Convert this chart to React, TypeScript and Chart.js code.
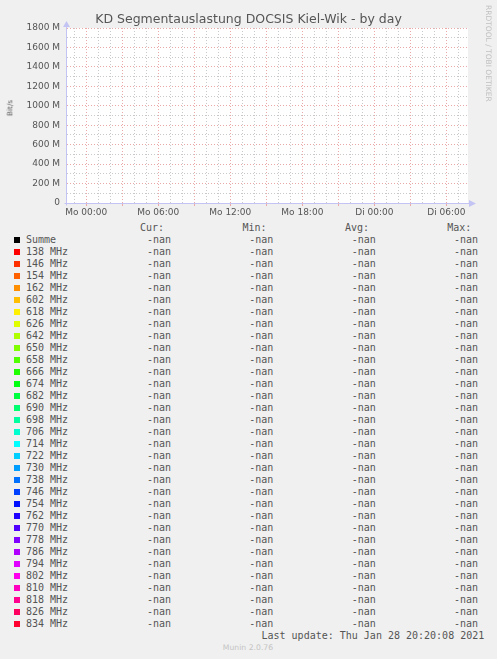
import React, { useEffect, useRef } from 'react';
import Chart from 'chart.js/auto';

const TITLE = 'KD Segmentauslastung DOCSIS Kiel-Wik - by day';
const Y_TITLE = 'Bit/s';
const WATERMARK = 'RRDTOOL / TOBI OETIKER';
const LAST_UPDATE = 'Last update: Thu Jan 28 20:20:08 2021';
const VERSION = 'Munin 2.0.76';

// x is hours relative to Mo 00:00
const X_MIN = -1.6;
const X_MAX = 31.8;
const X_TICK_HOURS = [0, 6, 12, 18, 24, 30];
const X_TICK_LABELS = ['Mo 00:00', 'Mo 06:00', 'Mo 12:00', 'Mo 18:00', 'Di 00:00', 'Di 06:00'];

const Y_MAX = 1800e6;
const Y_TICK_VALUES = [0, 200e6, 400e6, 600e6, 800e6, 1000e6, 1200e6, 1400e6, 1600e6, 1800e6];
const Y_TICK_LABELS = ['0', '200 M', '400 M', '600 M', '800 M', '1000 M', '1200 M', '1400 M', '1600 M', '1800 M'];

const SERIES_LABELS = [
  'Summe', '138 MHz', '146 MHz', '154 MHz', '162 MHz', '602 MHz', '618 MHz', '626 MHz',
  '642 MHz', '650 MHz', '658 MHz', '666 MHz', '674 MHz', '682 MHz', '690 MHz', '698 MHz',
  '706 MHz', '714 MHz', '722 MHz', '730 MHz', '738 MHz', '746 MHz', '754 MHz', '762 MHz',
  '770 MHz', '778 MHz', '786 MHz', '794 MHz', '802 MHz', '810 MHz', '818 MHz', '826 MHz', '834 MHz',
];
const SERIES_COLORS = [
  '#000000', '#ff0000', '#ff3000', '#ff6000', '#ff8f00', '#ffbf00', '#ffef00', '#dfff00',
  '#afff00', '#80ff00', '#50ff00', '#20ff00', '#00ff10', '#00ff40', '#00ff70', '#00ff9f',
  '#00ffcf', '#00ffff', '#00cfff', '#009fff', '#0070ff', '#0040ff', '#0010ff', '#2000ff',
  '#5000ff', '#8000ff', '#af00ff', '#df00ff', '#ff00ef', '#ff00bf', '#ff008f', '#ff0060', '#ff0030',
];
// nothing was recorded in the window, every series is empty (hence -nan)
const SERIES_VALUES: { x: number; y: number }[][] = SERIES_LABELS.map(() => []);

const TEXT = '#555555';
const MAJOR_GRID = '#eaa8a8';
const MINOR_GRID = '#c9c9c9';
const AXIS = '#c4c4f4';

const stat = (vals: { x: number; y: number }[], kind: string) => {
  const ys = vals.map(p => p.y).filter(v => Number.isFinite(v));
  if (ys.length === 0) return '-nan';
  let v = 0;
  if (kind === 'cur') v = ys[ys.length - 1];
  if (kind === 'min') v = Math.min(...ys);
  if (kind === 'max') v = Math.max(...ys);
  if (kind === 'avg') v = ys.reduce((a, b) => a + b, 0) / ys.length;
  return (v / 1e6).toFixed(2) + 'M';
};

const frame = {
  id: 'muninFrame',
  beforeDraw(chart: any) {
    const { ctx, chartArea: a } = chart;
    ctx.save();
    ctx.fillStyle = '#ffffff';
    ctx.fillRect(a.left, a.top, a.right - a.left, a.bottom - a.top);
    ctx.restore();
  },
  afterDraw(chart: any) {
    const { ctx, chartArea: a } = chart;
    const x0 = Math.round(a.left) - 0.5;
    const y0 = Math.round(a.bottom) + 0.5;
    ctx.save();
    ctx.strokeStyle = AXIS;
    ctx.fillStyle = AXIS;
    ctx.lineWidth = 1;
    ctx.beginPath();
    ctx.moveTo(x0 - 2, y0);
    ctx.lineTo(a.right + 3, y0);
    ctx.moveTo(x0, y0 + 2);
    ctx.lineTo(x0, a.top - 2);
    ctx.stroke();
    ctx.beginPath();
    ctx.moveTo(a.right + 8, y0);
    ctx.lineTo(a.right + 1, y0 - 3.5);
    ctx.lineTo(a.right + 1, y0 + 3.5);
    ctx.closePath();
    ctx.moveTo(x0, a.top - 7);
    ctx.lineTo(x0 - 3.5, a.top - 1);
    ctx.lineTo(x0 + 3.5, a.top - 1);
    ctx.closePath();
    ctx.fill();
    ctx.restore();
  },
};

function MuninChart() {
  const canvasRef = useRef<HTMLCanvasElement | null>(null);
  const chartRef = useRef<Chart | null>(null);

  useEffect(() => {
    if (!canvasRef.current) return;
    if (chartRef.current) chartRef.current.destroy();

    chartRef.current = new Chart(canvasRef.current, {
      type: 'line',
      data: {
        datasets: SERIES_LABELS.map((label, i) => ({
          label,
          data: SERIES_VALUES[i],
          borderColor: SERIES_COLORS[i],
          backgroundColor: SERIES_COLORS[i],
          borderWidth: 1,
          pointRadius: 0,
        })),
      },
      options: {
        animation: false,
        responsive: false,
        layout: { padding: 0 },
        plugins: {
          legend: { display: false },
          tooltip: { enabled: false },
          title: {
            display: true,
            text: TITLE,
            color: TEXT,
            font: { family: 'DejaVu Sans', size: 12.5, weight: 'normal' },
            padding: { top: 12, bottom: 1 },
          },
        },
        scales: {
          x: {
            type: 'linear',
            min: X_MIN,
            max: X_MAX,
            afterBuildTicks: (s: any) => {
              const ticks = [];
              for (let h = Math.ceil(X_MIN); h <= Math.floor(X_MAX); h++) ticks.push({ value: h });
              s.ticks = ticks;
            },
            afterFit: (s: any) => { s.height = 17; },
            ticks: {
              autoSkip: false,
              maxRotation: 0,
              minRotation: 0,
              padding: 1,
              color: TEXT,
              font: { family: 'DejaVu Sans', size: 9 },
              callback: (v: any) => {
                const i = X_TICK_HOURS.indexOf(Math.round(Number(v)));
                return i >= 0 ? X_TICK_LABELS[i] : '';
              },
            },
            grid: {
              lineWidth: 1,
              color: (c: any) => (Math.round(c.tick?.value ?? 1) % 3 === 0 ? MAJOR_GRID : MINOR_GRID),
              drawTicks: true,
              tickLength: 3,
              tickColor: (c: any) => (Math.round(c.tick?.value ?? 1) % 3 === 0 ? MAJOR_GRID : 'rgba(0,0,0,0)'),
            },
            border: { display: false, dash: [1, 2] },
          },
          y: {
            min: 0,
            max: Y_MAX,
            afterBuildTicks: (s: any) => {
              const ticks = [];
              for (let m = 0; m <= Y_MAX / 1e6; m += 100) ticks.push({ value: m * 1e6 });
              s.ticks = ticks;
            },
            afterFit: (s: any) => { s.width = 67; },
            ticks: {
              autoSkip: false,
              padding: 7,
              color: TEXT,
              font: { family: 'DejaVu Sans', size: 9 },
              callback: (v: any) => {
                const i = Y_TICK_VALUES.indexOf(Number(v));
                return i >= 0 ? Y_TICK_LABELS[i] : '';
              },
            },
            grid: {
              lineWidth: 1,
              drawTicks: false,
              color: (c: any) => (Math.round((c.tick?.value ?? 1) / 1e6) % 200 === 0 ? MAJOR_GRID : MINOR_GRID),
            },
            border: { display: false, dash: [1, 2] },
          },
          // empty strip on the right where rrdtool puts its watermark
          gutter: {
            type: 'linear',
            position: 'right',
            display: true,
            grid: { display: false },
            ticks: { display: false },
            border: { display: false },
            afterFit: (s: any) => { s.width = 29; },
          },
        },
      },
      plugins: [frame],
    });

    return () => {
      if (chartRef.current) chartRef.current.destroy();
      chartRef.current = null;
    };
  }, []);

  return <canvas ref={canvasRef} width={497} height={220} style={{ position: 'absolute', left: 0, top: 0, width: 497, height: 220 }} />;
}

const mono: React.CSSProperties = {
  position: 'absolute',
  fontFamily: '"DejaVu Sans Mono", monospace',
  fontSize: 10,
  lineHeight: '12px',
  color: TEXT,
  whiteSpace: 'pre',
};

const COL_HEAD = [{ t: 'Cur:', x: 140 }, { t: 'Min:', x: 242.5 }, { t: 'Avg:', x: 345 }, { t: 'Max:', x: 447.3 }];
const COL_VAL = [{ k: 'cur', x: 147 }, { k: 'min', x: 249.3 }, { k: 'avg', x: 351.7 }, { k: 'max', x: 454 }];

export default function App() {
  useEffect(() => {
    document.body.style.margin = '0';
    document.body.style.background = '#f0f0f0';
  }, []);

  return (
    <div style={{ position: 'relative', width: 497, height: 659, background: '#f0f0f0', overflow: 'hidden' }}>
      <MuninChart />
      <div
        style={{
          position: 'absolute', left: 9.5, top: 108, transform: 'translate(-50%, -50%) rotate(-90deg)',
          fontFamily: '"DejaVu Sans", sans-serif', fontSize: 7.3, color: TEXT, whiteSpace: 'pre', lineHeight: 1,
        }}
      >
        {Y_TITLE}
      </div>
      <div
        style={{
          position: 'absolute', left: 484, top: 5, writingMode: 'vertical-rl',
          fontFamily: '"DejaVu Sans", sans-serif', fontSize: 7.5, color: '#c0c0c0', whiteSpace: 'pre', lineHeight: '8px',
        }}
      >
        {WATERMARK}
      </div>

      {COL_HEAD.map(h => (
        <div key={h.t} style={{ ...mono, left: h.x, top: 228 - 6 }}>{h.t}</div>
      ))}
      {SERIES_LABELS.map((label, i) => {
        const cy = 240 + i * 12;
        return (
          <React.Fragment key={label}>
            <div style={{ position: 'absolute', left: 14, top: cy - 3, width: 6, height: 6, background: SERIES_COLORS[i] }} />
            <div style={{ ...mono, left: 26, top: cy - 6 }}>{label}</div>
            {COL_VAL.map(c => (
              <div key={c.k} style={{ ...mono, left: c.x, top: cy - 6 }}>{stat(SERIES_VALUES[i], c.k)}</div>
            ))}
          </React.Fragment>
        );
      })}
      <div style={{ ...mono, left: 261.5, top: 636 - 6 }}>{LAST_UPDATE}</div>
      <div
        style={{
          position: 'absolute', left: 248, top: 648, transform: 'translate(-50%, -50%)',
          fontFamily: '"DejaVu Sans", sans-serif', fontSize: 7.7, color: '#c4c4c4', whiteSpace: 'pre', lineHeight: 1,
        }}
      >
        {VERSION}
      </div>
    </div>
  );
}
